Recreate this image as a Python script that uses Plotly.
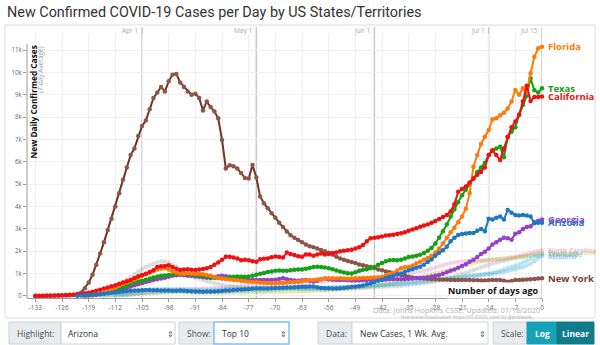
import plotly.graph_objects as go

TITLE = "New Confirmed COVID-19 Cases per Day by US States/Territories"
X_TICKS = list(range(-133, 1, 7))
Y_TICKS = list(range(0, 11001, 1000))
Y_TICK_TEXT = ["0"] + [f"{k}k" for k in range(1, 12)]
DATE_MARKS = ["Apr 1", "May 1", "Jun 1", "Jul 1", "Jul 15"]
DATE_MARK_DAYS = [-105, -75, -44, -14, 0]

# 7-day average of new cases, in thousands; one value per day, last value is day 0
new_york = [
    0, 0, 0, 0, 0, 0.01, 0.01, 0.02, 0.02, 0.03, 0.05,
    0.08, 0.15, 0.35, 0.6, 0.95, 1.4, 1.9, 2.4, 2.95, 3.45,
    4.0, 4.6, 5.2, 5.75, 6.3, 6.6, 7.15, 7.6, 7.85, 8.35,
    8.85, 9.1, 9.35, 9.15, 9.6, 9.9, 9.93, 9.55, 9.35, 9.15,
    9.0, 9.05, 8.85, 8.3, 8.7, 8.45, 8.25, 7.95, 6.98, 5.7,
    5.85, 5.8, 5.7, 5.5, 5.28, 5.25, 5.86, 5.3, 4.45, 4.15,
    3.92, 3.7, 3.5, 3.28, 3.08, 2.88, 2.72, 2.6, 2.5, 2.4,
    2.3, 2.22, 2.18, 2.12, 2.06, 2.0, 1.93, 1.85, 1.76, 1.68,
    1.62, 1.56, 1.52, 1.47, 1.41, 1.37, 1.33, 1.3, 1.25, 1.19,
    1.15, 1.1, 1.06, 1.02, 0.98, 0.94, 0.9, 0.86, 0.83, 0.81,
    0.79, 0.78, 0.77, 0.76, 0.75, 0.74, 0.73, 0.73, 0.72, 0.72,
    0.71, 0.72, 0.72, 0.71, 0.70, 0.70, 0.69, 0.69, 0.70, 0.71,
    0.72, 0.72, 0.68, 0.64, 0.67, 0.71, 0.72, 0.73, 0.74, 0.75,
    0.76, 0.78, 0.79,
]
california = [
    0.01, 0.01, 0.01, 0.02, 0.02, 0.02, 0.03, 0.03, 0.04, 0.05, 0.06, 0.08, 0.1,
    0.12, 0.15, 0.19, 0.23, 0.28, 0.33, 0.38, 0.43, 0.48, 0.55,
    0.6, 0.66, 0.72, 0.8, 0.88, 0.94, 1.0, 1.07, 1.15, 1.3,
    1.33, 1.34, 1.38, 1.3, 1.22, 1.16, 1.18, 1.2, 1.17, 1.16,
    1.19, 1.21, 1.24, 1.3, 1.4, 1.5, 1.62, 1.75, 1.76, 1.72,
    1.68, 1.6, 1.62, 1.6, 1.55, 1.53, 1.64, 1.66, 1.68, 1.73,
    1.77, 1.74, 1.72, 1.94, 1.88, 1.83, 1.78, 1.76, 1.86, 1.85,
    1.8, 1.85, 1.9, 1.86, 1.88, 1.92, 1.95, 2.0, 2.02, 2.04,
    2.07, 2.12, 2.18, 2.28, 2.45, 2.58, 2.6, 2.63, 2.66, 2.7,
    2.72, 2.74, 2.77, 2.81, 2.85, 2.92, 2.97, 3.03, 3.1, 3.15,
    3.2, 3.27, 3.35, 3.44, 3.53, 3.62, 3.78, 4.1, 4.66, 4.78,
    4.9, 5.08, 5.25, 5.42, 5.55, 5.75, 6.3, 6.52, 6.3, 6.08,
    6.6, 7.12, 7.55, 7.8, 8.1, 8.7, 9.4, 8.72, 8.9, 8.9,
    8.92,
]
texas = [
    0.02, 0.03, 0.05, 0.07, 0.1, 0.13, 0.17, 0.22, 0.28, 0.34,
    0.4, 0.47, 0.54, 0.6, 0.64, 0.68, 0.73, 0.78, 0.83, 0.87,
    0.9, 0.92, 0.94, 0.96, 0.99, 1.01, 0.99, 0.97, 0.95, 0.94,
    0.92, 0.89, 0.86, 0.84, 0.82, 0.8, 0.79, 0.81, 0.84, 0.86,
    0.87, 0.86, 0.86, 0.87, 0.9, 0.95, 1.0, 1.03, 1.07, 1.1,
    1.13, 1.14, 1.13, 1.13, 1.15, 1.17, 1.19, 1.18, 1.22, 1.25,
    1.3, 1.31, 1.3, 1.27, 1.24, 1.2, 1.14, 1.09, 1.05, 1.02,
    1.01, 1.06, 1.13, 1.17, 1.2, 1.24, 1.3, 1.4, 1.47, 1.55,
    1.6, 1.61, 1.6, 1.62, 1.68, 1.74, 1.77, 1.8, 1.84, 1.92,
    2.02, 2.15, 2.35, 2.6, 2.9, 3.2, 3.55, 3.88, 4.2, 4.5,
    4.75, 5.0, 5.25, 5.55, 5.75, 5.95, 6.3, 6.5, 6.6, 6.68,
    6.2, 7.1, 7.35, 7.55, 8.1, 8.55, 8.95, 9.74, 9.2, 9.1,
    9.29,
]
florida = [
    0.01, 0.02, 0.04, 0.07, 0.1, 0.15, 0.22, 0.3, 0.38, 0.46,
    0.54, 0.6, 0.66, 0.74, 0.82, 0.9, 0.97, 1.04, 1.12, 1.19,
    1.22, 1.24, 1.18, 1.09, 1.05, 1.01, 1.0, 1.02, 1.01, 1.0,
    0.99, 0.97, 0.94, 0.9, 0.85, 0.81, 0.78, 0.76, 0.74, 0.72,
    0.7, 0.68, 0.66, 0.64, 0.63, 0.62, 0.6, 0.59, 0.58, 0.57,
    0.57, 0.58, 0.59, 0.6, 0.62, 0.63, 0.64, 0.66, 0.69, 0.71,
    0.72, 0.74, 0.75, 0.77, 0.79, 0.79, 0.78, 0.79, 0.78, 0.77,
    0.78, 0.79, 0.79, 0.8, 0.81, 0.82, 0.83, 0.84, 0.86, 0.92,
    0.98, 1.04, 1.14, 1.24, 1.28, 1.3, 1.36, 1.45, 1.53, 1.62,
    1.7, 1.8, 1.95, 2.12, 2.35, 2.6, 2.85, 3.05, 3.3, 3.55,
    3.9, 4.6, 5.78, 6.3, 6.8, 7.12, 7.42, 7.9, 7.95, 8.08,
    8.2, 8.39, 8.7, 9.21, 9.0, 9.29, 9.1, 9.96, 10.7, 11.08,
    11.15,
]
arizona = [
    0.01, 0.02, 0.03, 0.04, 0.05, 0.06, 0.08, 0.1, 0.12, 0.14,
    0.16, 0.18, 0.2, 0.22, 0.23, 0.24, 0.25, 0.26, 0.27, 0.27,
    0.26, 0.26, 0.25, 0.24, 0.24, 0.23, 0.23, 0.24, 0.23, 0.22,
    0.21, 0.2, 0.2, 0.19, 0.2, 0.2, 0.2, 0.21, 0.22, 0.24,
    0.25, 0.27, 0.28, 0.29, 0.3, 0.31, 0.32, 0.33, 0.33, 0.34,
    0.34, 0.35, 0.36, 0.36, 0.37, 0.38, 0.38, 0.39, 0.4, 0.41,
    0.41, 0.42, 0.42, 0.39, 0.36, 0.35, 0.35, 0.34, 0.34, 0.35,
    0.36, 0.38, 0.4, 0.41, 0.43, 0.47, 0.52, 0.57, 0.62, 0.68,
    0.73, 0.8, 0.86, 0.9, 0.96, 1.01, 1.08, 1.15, 1.2, 1.26,
    1.31, 1.4, 1.52, 1.63, 1.8, 1.93, 2.05, 2.2, 2.45, 2.6,
    2.73, 2.77, 2.8, 2.82, 2.82, 2.92, 3.0, 2.9, 3.45, 3.42,
    3.5, 3.55, 3.42, 3.85, 3.72, 3.62, 3.6, 3.62, 3.6, 3.55,
    3.25, 3.27, 3.28,
]
georgia = [
    0.01, 0.02, 0.03, 0.05, 0.07, 0.1, 0.13, 0.17, 0.21, 0.26,
    0.31, 0.36, 0.42, 0.48, 0.53, 0.58, 0.63, 0.67, 0.71, 0.75,
    0.78, 0.82, 0.86, 0.9, 0.93, 0.94, 0.93, 0.91, 0.89, 0.87,
    0.86, 0.84, 0.82, 0.8, 0.84, 0.88, 0.9, 0.88, 0.86, 0.82,
    0.79, 0.77, 0.74, 0.72, 0.71, 0.72, 0.72, 0.71, 0.72, 0.72,
    0.73, 0.76, 0.79, 0.75, 0.71, 0.69, 0.68, 0.7, 0.72, 0.68,
    0.65, 0.68, 0.75, 0.78, 0.75, 0.73, 0.72, 0.72, 0.71, 0.7,
    0.69, 0.69, 0.69, 0.7, 0.71, 0.72, 0.72, 0.72, 0.73, 0.74,
    0.75, 0.75, 0.75, 0.75, 0.76, 0.77, 0.78, 0.79, 0.8, 0.82,
    0.84, 0.87, 0.9, 0.94, 1.0, 1.06, 1.13, 1.18, 1.26, 1.34,
    1.42, 1.53, 1.62, 1.74, 1.88, 1.98, 2.12, 2.3, 2.4, 2.52,
    2.6, 2.58, 2.52, 2.78, 2.85, 3.0, 3.08, 3.12, 3.3, 3.36,
    3.42,
]
north_carolina = [
    0.05, 0.07, 0.09, 0.11, 0.13, 0.15, 0.17, 0.19, 0.21, 0.23,
    0.25, 0.26, 0.27, 0.28, 0.29, 0.3, 0.3, 0.31, 0.31, 0.32,
    0.32, 0.33, 0.33, 0.34, 0.36, 0.35, 0.37, 0.38, 0.39, 0.4,
    0.41, 0.43, 0.42, 0.44, 0.45, 0.47, 0.46, 0.48, 0.49, 0.5,
    0.51, 0.53, 0.52, 0.54, 0.55, 0.56, 0.58, 0.57, 0.59, 0.6,
    0.62, 0.64, 0.66, 0.68, 0.69, 0.7, 0.71, 0.72, 0.73, 0.74,
    0.74, 0.75, 0.76, 0.77, 0.78, 0.79, 0.8, 0.81, 0.82, 0.84,
    0.86, 0.9, 0.93, 0.96, 0.99, 1.02, 1.05, 1.08, 1.1, 1.13,
    1.17, 1.22, 1.27, 1.32, 1.37, 1.42, 1.46, 1.5, 1.52, 1.54,
    1.55, 1.56, 1.57, 1.58, 1.58, 1.59, 1.6, 1.61, 1.62, 1.63,
    1.64, 1.68, 1.72, 1.76, 1.8, 1.84, 1.88, 1.92, 1.96, 2.01,
    2.05,
]
louisiana = [
    0.02, 0.05, 0.09, 0.15, 0.22, 0.3, 0.4, 0.5, 0.62, 0.74,
    0.86, 0.98, 1.1, 1.2, 1.3, 1.38, 1.44, 1.5, 1.54, 1.55,
    1.5, 1.42, 1.32, 1.2, 1.1, 1.0, 0.92, 0.85, 0.78, 0.72,
    0.66, 0.61, 0.57, 0.53, 0.5, 0.47, 0.45, 0.43, 0.41, 0.4,
    0.39, 0.38, 0.37, 0.36, 0.36, 0.35, 0.35, 0.34, 0.34, 0.33,
    0.33, 0.33, 0.32, 0.32, 0.31, 0.31, 0.3, 0.3, 0.3, 0.29,
    0.29, 0.29, 0.3, 0.3, 0.31, 0.32, 0.33, 0.33, 0.34, 0.35,
    0.36, 0.36, 0.37, 0.38, 0.39, 0.4, 0.41, 0.42, 0.43, 0.44,
    0.45, 0.46, 0.48, 0.5, 0.52, 0.54, 0.56, 0.58, 0.6, 0.63,
    0.66, 0.7, 0.74, 0.78, 0.83, 0.88, 0.93, 0.98, 1.04, 1.1,
    1.16, 1.22, 1.28, 1.34, 1.4, 1.45, 1.5, 1.54, 1.58, 1.62,
    1.66, 1.7, 1.73, 1.76, 1.79, 1.82, 1.84, 1.86, 1.88,
]
south_carolina = [
    0.01, 0.02, 0.03, 0.04, 0.05, 0.06, 0.07, 0.08, 0.09, 0.1,
    0.11, 0.12, 0.13, 0.14, 0.15, 0.16, 0.16, 0.17, 0.17, 0.17,
    0.17, 0.16, 0.16, 0.15, 0.15, 0.14, 0.14, 0.14, 0.13, 0.13,
    0.13, 0.13, 0.14, 0.14, 0.15, 0.15, 0.15, 0.16, 0.16, 0.16,
    0.17, 0.17, 0.17, 0.18, 0.18, 0.18, 0.18, 0.19, 0.19, 0.19,
    0.2, 0.2, 0.21, 0.21, 0.22, 0.23, 0.24, 0.25, 0.26, 0.27,
    0.28, 0.29, 0.3, 0.31, 0.32, 0.33, 0.35, 0.37, 0.39, 0.41,
    0.43, 0.45, 0.48, 0.51, 0.54, 0.57, 0.6, 0.63, 0.66, 0.7,
    0.74, 0.78, 0.82, 0.86, 0.9, 0.94, 0.98, 1.02, 1.06, 1.1,
    1.14, 1.18, 1.22, 1.27, 1.32, 1.37, 1.42, 1.47, 1.52, 1.56,
    1.59, 1.62, 1.64, 1.66, 1.68, 1.69, 1.7, 1.71, 1.72, 1.74,
    1.76, 1.79, 1.82, 1.86, 1.9, 1.93,
]
tennessee = [
    0.01, 0.02, 0.04, 0.06, 0.08, 0.11, 0.14, 0.17, 0.2, 0.23,
    0.25, 0.27, 0.29, 0.3, 0.31, 0.31, 0.32, 0.32, 0.31, 0.3,
    0.3, 0.29, 0.29, 0.28, 0.28, 0.27, 0.27, 0.27, 0.28, 0.28,
    0.29, 0.3, 0.31, 0.32, 0.33, 0.33, 0.34, 0.34, 0.35, 0.35,
    0.36, 0.36, 0.37, 0.37, 0.38, 0.38, 0.38, 0.37, 0.37, 0.36,
    0.36, 0.35, 0.35, 0.35, 0.34, 0.34, 0.35, 0.35, 0.36, 0.36,
    0.37, 0.37, 0.38, 0.38, 0.39, 0.4, 0.4, 0.41, 0.42, 0.43,
    0.44, 0.45, 0.46, 0.47, 0.48, 0.5, 0.51, 0.52, 0.53, 0.55,
    0.56, 0.57, 0.58, 0.6, 0.62, 0.64, 0.66, 0.69, 0.72, 0.75,
    0.78, 0.8, 0.82, 0.84, 0.86, 0.88, 0.9, 0.92, 0.94, 0.96,
    0.98, 1.0, 1.04, 1.08, 1.13, 1.18, 1.24, 1.3, 1.36, 1.42,
    1.5, 1.58, 1.66, 1.74, 1.8, 1.86,
]
alabama = [
    0.01, 0.02, 0.03, 0.04, 0.06, 0.08, 0.1, 0.12, 0.14, 0.15,
    0.16, 0.17, 0.18, 0.18, 0.19, 0.19, 0.2, 0.2, 0.2, 0.19,
    0.19, 0.19, 0.18, 0.18, 0.18, 0.18, 0.19, 0.19, 0.2, 0.2,
    0.21, 0.21, 0.22, 0.22, 0.23, 0.23, 0.24, 0.24, 0.25, 0.25,
    0.26, 0.27, 0.28, 0.29, 0.3, 0.31, 0.32, 0.33, 0.33, 0.34,
    0.34, 0.35, 0.35, 0.36, 0.37, 0.38, 0.39, 0.4, 0.4, 0.41,
    0.41, 0.42, 0.42, 0.43, 0.44, 0.45, 0.46, 0.47, 0.48, 0.49,
    0.5, 0.51, 0.52, 0.54, 0.56, 0.58, 0.6, 0.62, 0.64, 0.66,
    0.68, 0.7, 0.72, 0.74, 0.76, 0.77, 0.78, 0.79, 0.8, 0.81,
    0.82, 0.83, 0.85, 0.87, 0.89, 0.91, 0.93, 0.95, 0.97, 0.99,
    1.02, 1.05, 1.08, 1.12, 1.16, 1.2, 1.25, 1.3, 1.36, 1.44,
    1.55, 1.68, 1.78,
]

# name, values, line colour, marker colour, opacity
SERIES = [
    ("North Carolina", north_carolina, "#e377c2", "#e377c2", 0.33),
    ("Louisiana", louisiana, "#9a9a9a", "#9a9a9a", 0.33),
    ("South Carolina", south_carolina, "#bcbd22", "#bcbd22", 0.33),
    ("Tennessee", tennessee, "#17becf", "#17becf", 0.33),
    ("Alabama", alabama, "#4a9fd6", "#4a9fd6", 0.33),
    ("New York", new_york, "#6e3424", "#8c564b", 1.0),
    ("Georgia", georgia, "#9440c8", "#9440c8", 1.0),
    ("Texas", texas, "#15a015", "#15a015", 1.0),
    ("Florida", florida, "#ff7a0a", "#ff7a0a", 1.0),
    ("California", california, "#ee1111", "#ee1111", 1.0),
    ("Arizona", arizona, "#1f77c4", "#1f77c4", 1.0),
]

LABEL_STYLE = {
    "North Carolina": ("rgba(227,119,194,0.5)", 6.5),
    "Louisiana": ("rgba(150,150,150,0.45)", 6.5),
    "South Carolina": ("rgba(188,189,34,0.5)", 6.5),
    "Tennessee": ("rgba(23,190,207,0.5)", 6.5),
    "Alabama": ("rgba(74,159,214,0.55)", 6.5),
    "New York": ("#7a3b2c", 9.5),
    "Georgia": ("#9440c8", 9.5),
    "Texas": ("#15a015", 9.5),
    "Florida": ("#ff7a0a", 9.5),
    "California": ("#ee1111", 9.5),
    "Arizona": ("#1f77c4", 9.5),
}

# plot-area placement in page pixels
W, H = 600, 345
PL, PR, PT, PB = 27, 542, 34, 298


def px(x):
    return (x - PL) / (PR - PL)


def py(y):
    return (PB - y) / (PB - PT)


FONT = "Open Sans"
fig = go.Figure()

for name, vals, lc, mc, op in SERIES:
    n = len(vals)
    days = list(range(-n + 1, 1))
    fig.add_trace(go.Scatter(
        x=days, y=[v * 1000 for v in vals], mode="lines+markers",
        line=dict(color=lc, width=2), marker=dict(color=mc, size=4.5),
        opacity=op, cliponaxis=False, showlegend=False, name=name,
    ))

annotations = []
for name, vals, lc, mc, op in SERIES:
    color, size = LABEL_STYLE[name]
    annotations.append(dict(
        x=0, y=vals[-1] * 1000, xref="x", yref="y", xanchor="left",
        yanchor="middle", xshift=4, showarrow=False, text=f"<b>{name}</b>",
        font=dict(family=FONT, size=size, color=color),
    ))

shapes = []
# outer frame of the chart card
shapes.append(dict(type="rect", xref="paper", yref="paper", x0=px(5), x1=px(595),
                   y0=py(318), y1=py(25), line=dict(color="#dddddd", width=1),
                   layer="below"))
# month markers
for lab, d in zip(DATE_MARKS, DATE_MARK_DAYS):
    shapes.append(dict(type="line", xref="x", yref="paper", x0=d, x1=d,
                       y0=0, y1=py(27), line=dict(color="#c9c9c9", width=1.5),
                       layer="below"))
    annotations.append(dict(x=d, y=py(31), xref="x", yref="paper", xanchor="right",
                            yanchor="middle", xshift=-2, showarrow=False, text=lab,
                            font=dict(family=FONT, size=6.5, color="#aaaaaa")))
# y axis line
shapes.append(dict(type="line", xref="paper", yref="y", x0=0, x1=0, y0=-90, y1=11270,
                   line=dict(color="#9a9a9a", width=1)))

# axis titles inside the plot
annotations.append(dict(x=px(33), y=py(44), xref="paper", yref="paper", textangle=-90,
                        xanchor="center", yanchor="top", showarrow=False,
                        text="<b>New Daily Confirmed Cases</b>",
                        font=dict(family=FONT, size=8.3, color="#111111")))
annotations.append(dict(x=px(40.5), y=py(44), xref="paper", yref="paper", textangle=-90,
                        xanchor="center", yanchor="top", showarrow=False,
                        text="(7-day Average)",
                        font=dict(family=FONT, size=6.5, color="#999999")))
annotations.append(dict(x=0, y=py(290), xref="x", yref="paper", xanchor="right",
                        yanchor="middle", xshift=-2, showarrow=False,
                        text="<b>Number of days ago</b>", bgcolor="white",
                        font=dict(family=FONT, size=9, color="#111111")))

# title and source lines
annotations.append(dict(x=px(5), y=py(12), xref="paper", yref="paper", xanchor="left",
                        yanchor="middle", showarrow=False, text=TITLE,
                        font=dict(family="Roboto", size=14.4, color="#333333")))
annotations.append(dict(x=px(542), y=py(310), xref="paper", yref="paper",
                        xanchor="right", yanchor="middle", showarrow=False,
                        text="Data: Johns Hopkins CSSE; Updated: 07/16/2020",
                        font=dict(family=FONT, size=7.5, color="#b0b0b0")))
annotations.append(dict(x=px(536), y=py(317), xref="paper", yref="paper",
                        xanchor="right", yanchor="middle", showarrow=False,
                        text="Interactive Visualization: https://91-DIVOC.com/ by @profwade_",
                        font=dict(family=FONT, size=4.5, color="#b0b0b0")))

# control bar below the chart
CTRL_T, CTRL_B = 322, 344
GREY_BOX = "#e9ecef"
BORDER = "#ced4da"
TXT = "#495057"


def box(x0, x1, fill, border=BORDER, width=1):
    shapes.append(dict(type="rect", xref="paper", yref="paper", x0=px(x0), x1=px(x1),
                       y0=py(CTRL_B), y1=py(CTRL_T), fillcolor=fill,
                       line=dict(color=border, width=width)))


def label(x, text, color=TXT, anchor="left", size=8.5):
    annotations.append(dict(x=px(x), y=py((CTRL_T + CTRL_B) / 2), xref="paper",
                            yref="paper", xanchor=anchor, yanchor="middle",
                            showarrow=False, text=text,
                            font=dict(family=FONT, size=size, color=color)))


box(9, 61, GREY_BOX)
label(15, "Highlight:")
box(61, 175, "white")
label(66, "Arizona", color="#333333")
label(170, "⇕", color="#555555", anchor="center", size=8)

box(179, 214, GREY_BOX)
label(185, "Show:")
box(214, 289, "white", border="#80bdff", width=1.5)
label(220, "Top 10", color="#333333")
label(283, "⇕", color="#555555", anchor="center", size=8)

box(318, 352, GREY_BOX)
label(324, "Data:")
box(352, 488, "white")
label(358, "New Cases, 1 Wk. Avg.", color="#333333")
label(482, "⇕", color="#555555", anchor="center", size=8)

box(493, 527, GREY_BOX)
label(499, "Scale:")
box(527, 557, "#17a2b8", border="#17a2b8")
label(542, "<b>Log</b>", color="white", anchor="center")
box(557, 594, "#117a8b", border="#117a8b")
label(575.5, "<b>Linear</b>", color="white", anchor="center")

fig.update_layout(
    width=W, height=H,
    margin=dict(l=PL, r=W - PR, t=PT, b=H - PB, pad=0),
    paper_bgcolor="white", plot_bgcolor="white",
    font=dict(family=FONT, size=7, color="#777777"),
    xaxis=dict(range=[-135.2, 0], tickvals=X_TICKS, ticktext=[str(t) for t in X_TICKS],
               showgrid=True, gridcolor="#eeeef4", gridwidth=1, zeroline=False,
               showline=True, linecolor="#9a9a9a", linewidth=1,
               ticks="outside", ticklen=3, tickcolor="#9a9a9a",
               tickfont=dict(family=FONT, size=6.5, color="#666666")),
    yaxis=dict(range=[-90, 11717], tickvals=Y_TICKS, ticktext=Y_TICK_TEXT,
               showgrid=True, gridcolor="#eeeef4", gridwidth=1, zeroline=False,
               showline=False, ticks="outside", ticklen=3, tickcolor="#9a9a9a",
               tickfont=dict(family=FONT, size=6.2, color="#666666")),
    shapes=shapes, annotations=annotations,
)

fig.write_html("out.html")
